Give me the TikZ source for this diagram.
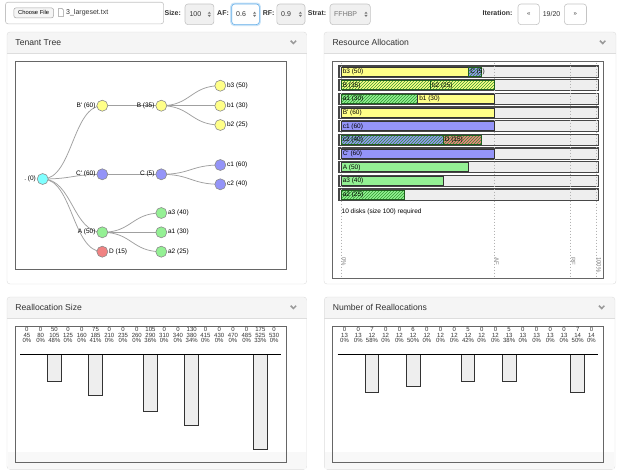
\documentclass[tikz,border=0pt]{standalone}
\usepackage{fontspec}
\setmainfont{Liberation Sans}
\usetikzlibrary{patterns,calc}
\definecolor{cyanN}{HTML}{7FFFFF}
\definecolor{yelN}{HTML}{FFFF88}
\definecolor{bluN}{HTML}{9494F8}
\definecolor{grnN}{HTML}{94F094}
\definecolor{pinkN}{HTML}{F08282}
\definecolor{hatchN}{HTML}{2F9A2F}
\definecolor{hborder}{HTML}{1F5F1F}
\definecolor{panelB}{HTML}{DDDDDD}
\definecolor{hdrF}{HTML}{F5F5F5}
\definecolor{txtD}{HTML}{333333}
\definecolor{barG}{HTML}{EEEEEE}
\definecolor{linkG}{HTML}{A0A0A0}
\definecolor{focusB}{HTML}{66AFE9}
\definecolor{selF}{HTML}{F0F0F0}
\definecolor{selB}{HTML}{C4C4C4}
\pgfdeclarelayer{bg}
\pgfdeclarelayer{edges}
\pgfsetlayers{bg,edges,main}
\newcommand\fs[1]{\fontsize{#1}{#1}\selectfont}
\newcommand\apos{\textquotesingle}
\tikzset{
  tn/.style={circle,draw=black!45,line width=0.6pt,minimum size=11pt,inner sep=0pt},
  tl/.style={font=\fs{6.5},inner sep=0.8pt,text=black},
  link/.style={draw=linkG,line width=0.75pt},
  ptitle/.style={font=\fs{8.6},text=txtD,inner sep=0pt},
  chev/.style={draw=black!40,line width=1.5pt},
  ibox/.style={draw=black!60,line width=0.8pt},
  bl/.style={anchor=west,font=\fs{6.5},inner sep=0pt},
  num/.style={align=center,font=\fontsize{6}{5.5}\selectfont,inner sep=0pt,text=txtD},
  cbar/.style={draw=black!80,fill=barG,line width=0.9pt},
  dline/.style={draw=black!30,dash pattern=on 1.5pt off 1.5pt,line width=0.6pt},
  rlab/.style={rotate=-90,anchor=south west,font=\fs{6},text=black!50,inner sep=0.5pt},
  ui/.style={font=\fs{7},inner sep=0pt,text=txtD},
  uib/.style={font=\bfseries\fs{7},inner sep=0pt,text=txtD},
  sel/.style={draw=selB,fill=selF,rounded corners=3pt,line width=0.6pt},
  btn/.style={draw=selB,fill=white,rounded corners=3pt,line width=0.6pt},
}
\newcommand\panelbox[6]{%
  \begin{pgfonlayer}{bg}
  \fill[white,rounded corners=3pt] (#1,#2) rectangle (#3,#4);
  \begin{scope}
    \clip[rounded corners=3pt] (#1,#2) rectangle (#3,#4);
    \fill[hdrF] (#1,#2) rectangle (#3,#2+21);
  \end{scope}
  \draw[panelB] (#1,#2+21) -- (#3,#2+21);
  \draw[panelB,rounded corners=3pt] (#1,#2) rectangle (#3,#4);
  \end{pgfonlayer}
  \node[ptitle,anchor=west] (#5) at (#1+8.3,#2+10.7) {#6};
  \draw[chev] (#3-16,#2+8.7) -- (#3-13.3,#2+11.5) -- (#3-10.6,#2+8.7);
}
\newcommand\selarrows[2]{%
  \fill[black!55] (#1-1.6,#2-0.6) -- (#1+1.6,#2-0.6) -- (#1,#2-2.6) -- cycle;
  \fill[black!55] (#1-1.6,#2+0.6) -- (#1+1.6,#2+0.6) -- (#1,#2+2.6) -- cycle;
}
\newcommand\rowbg[1]{%
  \pgfmathsetmacro\rY{66+(#1-1)*13.67}
  \draw[draw=black!72,fill=barG,line width=1.1pt] (339,\rY) rectangle (598.3,\rY+11.2);
}
\newcommand\seg[6]{%
  \pgfmathsetmacro\rY{66+(#1-1)*13.67}
  \pgfmathsetmacro\rXa{341+2.55*#2}
  \pgfmathsetmacro\rXb{341+2.55*#3}
  \draw[draw=black!80,fill=#4,line width=0.8pt] (\rXa,\rY+1) rectangle (\rXb,\rY+10.2);
  \node[bl] (#5) at (\rXa+1.6,\rY+5.7) {#6};
}
\newcommand\hseg[6]{%
  \pgfmathsetmacro\rY{66+(#1-1)*13.67}
  \pgfmathsetmacro\rXa{341+2.55*#2}
  \pgfmathsetmacro\rXb{341+2.55*#3}
  \fill[#4] (\rXa,\rY+1) rectangle (\rXb,\rY+10.2);
  \fill[pattern=north east lines,pattern color=hatchN] (\rXa,\rY+1) rectangle (\rXb,\rY+10.2);
  \draw[hborder,line width=0.8pt] (\rXa,\rY+1) rectangle (\rXb,\rY+10.2);
  \node[bl] (#5) at (\rXa+1.6,\rY+5.7) {#6};
}
\newcommand\lnk[2]{%
  \draw[link] let \p1=(#1.center), \p2=(#2.center) in
    (\p1) .. controls ({0.5*\x1+0.5*\x2},\y1) and ({0.5*\x1+0.5*\x2},\y2) .. (\p2);
}
\begin{document}
\begin{tikzpicture}[x=1pt,y=-1pt]
\useasboundingbox (0,0) rectangle (621,474);
\begin{pgfonlayer}{bg}
\fill[white] (0,0) rectangle (621,474);
\end{pgfonlayer}

% ---------- top bar ----------
\draw[draw=selB,fill=white,rounded corners=2.5pt,line width=0.6pt] (5.5,2.2) rectangle (163.6,23.8);
\draw[draw=black!35,fill=hdrF,rounded corners=2pt,line width=0.5pt] (13.9,7.9) rectangle (53.5,17.8);
\node[font=\fs{5.8},inner sep=0pt,text=black] (choose) at (33.7,12.9) {Choose File};
\draw[black!40,line width=0.4pt,fill=white] (58.6,8.3) -- (61.8,8.3) -- (63.4,9.9) -- (63.4,16.6) -- (58.6,16.6) -- cycle;
\node[ui,anchor=west] (fname) at (66,12.8) {3\_largeset.txt};
\node[uib,anchor=west] (lsize) at (164.4,13.2) {Size:};
\draw[sel] (185,4) rectangle (213.9,24.6);
\node[ui,anchor=west] (vsize) at (189.3,14.3) {100};
\selarrows{209.3}{14.3}
\node[uib,anchor=west] (laf) at (217,13.2) {AF:};
\fill[focusB!35,rounded corners=4pt] (230.2,2.5) rectangle (260.9,26.1);
\draw[sel,draw=focusB,fill=white!90!selF] (231.7,4) rectangle (259.4,24.6);
\node[ui,anchor=west] (vaf) at (236,14.3) {0.6};
\selarrows{254.6}{14.3}
\node[uib,anchor=west] (lrf) at (262.6,13.2) {RF:};
\draw[sel] (276.8,4) rectangle (305,24.6);
\node[ui,anchor=west] (vrf) at (281,14.3) {0.9};
\selarrows{300.4}{14.3}
\node[uib,anchor=west] (lstrat) at (307.7,13.2) {Strat:};
\draw[sel] (330,4) rectangle (370.3,24.6);
\node[ui,anchor=west,text=black!55] (vstrat) at (334,14.3) {FFHBP};
\selarrows{366}{14.3}
\node[uib,anchor=west] (liter) at (482.4,13.2) {Iteration:};
\draw[btn] (518,4) rectangle (539.4,24.6);
\node[ui,font=\fs{6}] (prev) at (528.7,14.3) {<<};
\node[ui,anchor=west] (iter) at (542.6,13.6) {19/20};
\draw[btn] (564.4,4) rectangle (586.5,24.6);
\node[ui,font=\fs{6}] (next) at (575.4,14.3) {>>};

% ---------- panels ----------
\panelbox{7}{32}{306.7}{284}{ttree}{Tenant Tree}
\panelbox{324}{32}{616}{284}{tres}{Resource Allocation}
\panelbox{7}{297}{306.7}{469.3}{tsize}{Reallocation Size}
\panelbox{324.3}{297}{615}{469.3}{tnum}{Number of Reallocations}
\begin{pgfonlayer}{bg}
\fill[hdrF!70] (7.6,451.7) rectangle (306.1,468.7);
\fill[hdrF!70] (324.9,451.7) rectangle (614.4,468.7);
\end{pgfonlayer}

% ---------- tenant tree ----------
\draw[ibox] (15,61) rectangle (286.7,269);
\node[tn,fill=cyanN] (root) at (42.7,179) {};
\node[tn,fill=yelN] (Bp) at (102.3,105.7) {};
\node[tn,fill=yelN] (B) at (161.3,105.7) {};
\node[tn,fill=yelN] (b3) at (220.3,85.7) {};
\node[tn,fill=yelN] (b1) at (220.3,105.7) {};
\node[tn,fill=yelN] (b2) at (220.3,125) {};
\node[tn,fill=bluN] (Cp) at (102.3,174.3) {};
\node[tn,fill=bluN] (C) at (161.3,174.3) {};
\node[tn,fill=bluN] (c1) at (220.3,165) {};
\node[tn,fill=bluN] (c2) at (220.3,184.3) {};
\node[tn,fill=grnN] (A) at (102.3,232.3) {};
\node[tn,fill=pinkN] (D) at (102.3,251.7) {};
\node[tn,fill=grnN] (a3) at (161.3,213) {};
\node[tn,fill=grnN] (a1) at (161.3,232.3) {};
\node[tn,fill=grnN] (a2) at (161.3,251.7) {};
\node[tl,anchor=east] (lroot) at (root.west) {.\ (0)};
\node[tl,anchor=east] (lBp) at (Bp.west) {B\apos\ (60)};
\node[tl,anchor=east] (lB) at (B.west) {B (35)};
\node[tl,anchor=west] (lb3) at (b3.east) {b3 (50)};
\node[tl,anchor=west] (lb1) at (b1.east) {b1 (30)};
\node[tl,anchor=west] (lb2) at (b2.east) {b2 (25)};
\node[tl,anchor=east] (lCp) at (Cp.west) {C\apos\ (60)};
\node[tl,anchor=east] (lC) at (C.west) {C (5)};
\node[tl,anchor=west] (lc1) at (c1.east) {c1 (60)};
\node[tl,anchor=west] (lc2) at (c2.east) {c2 (40)};
\node[tl,anchor=east] (lA) at (A.west) {A (50)};
\node[tl,anchor=west] (lD) at (D.east) {D (15)};
\node[tl,anchor=west] (la3) at (a3.east) {a3 (40)};
\node[tl,anchor=west] (la1) at (a1.east) {a1 (30)};
\node[tl,anchor=west] (la2) at (a2.east) {a2 (25)};
\begin{pgfonlayer}{edges}
\lnk{root}{Bp}\lnk{root}{Cp}\lnk{root}{A}\lnk{root}{D}
\lnk{Bp}{B}\lnk{B}{b3}\lnk{B}{b1}\lnk{B}{b2}
\lnk{Cp}{C}\lnk{C}{c1}\lnk{C}{c2}
\lnk{A}{a3}\lnk{A}{a1}\lnk{A}{a2}
\end{pgfonlayer}

% ---------- resource allocation ----------
\draw[ibox] (332.7,61) rectangle (603.3,278);
\foreach \r in {1,...,10} {\rowbg{\r}}
\foreach \x in {341,494,570.5,596} {\draw[dline] (\x,62.5) -- (\x,277);}
\seg{1}{0}{50}{yelN}{s1a}{b3 (50)}
\hseg{1}{50}{55}{bluN}{s1b}{C (5)}
\hseg{2}{0}{35}{yelN}{s2a}{B (35)}
\hseg{2}{35}{60}{yelN}{s2b}{b2 (25)}
\hseg{3}{0}{30}{grnN}{s3a}{a1 (30)}
\seg{3}{30}{60}{yelN}{s3b}{b1 (30)}
\seg{4}{0}{60}{yelN}{s4a}{B\apos\ (60)}
\seg{5}{0}{60}{bluN}{s5a}{c1 (60)}
\hseg{6}{0}{40}{bluN}{s6a}{c2 (40)}
\hseg{6}{40}{55}{pinkN}{s6b}{D (15)}
\seg{7}{0}{60}{bluN}{s7a}{C\apos\ (60)}
\seg{8}{0}{50}{grnN}{s8a}{A (50)}
\seg{9}{0}{40}{grnN}{s9a}{a3 (40)}
\hseg{10}{0}{25}{grnN}{s10a}{a2 (25)}
\node[bl] (disks) at (341.5,211.7) {10 disks (size 100) required};
\node[rlab] (p0) at (341,256.5) {0\%};
\node[rlab] (pAF) at (494,256.5) {AF};
\node[rlab] (pRF) at (570.5,256.5) {RF};
\node[rlab] (p100) at (596,256.5) {100\%};

% ---------- reallocation size ----------
\draw[ibox] (15,326.7) rectangle (286.7,462.3);
\foreach \v/\w/\p [count=\i] in {0/45/0,0/80/0,50/105/48,0/125/0,0/160/0,75/185/41,0/210/0,0/235/0,0/260/0,105/290/36,0/310/0,0/340/0,130/380/34,0/415/0,0/430/0,0/470/0,0/485/0,175/525/33,0/530/0}
  {\node[num] (rs\i) at ({20+(\i-0.5)*13.737},335.2) {\v\\\w\\\p\%};}
\foreach \c/\v in {3/50,6/75,10/105,13/130,18/175}
  {\draw[cbar] ({20+(\c-1)*13.737},354.3) rectangle ({20+\c*13.737},{354.3+0.545*\v});}
\draw[black,line width=0.9pt] (20,354.3) -- (281,354.3);

% ---------- number of reallocations ----------
\draw[ibox] (332.3,326.7) rectangle (603.7,462.3);
\foreach \v/\w/\p [count=\i] in {0/13/0,0/13/0,7/12/58,0/12/0,0/12/0,6/12/50,0/12/0,0/12/0,0/12/0,5/12/42,0/12/0,0/12/0,5/13/38,0/13/0,0/13/0,0/13/0,0/13/0,7/14/50,0/14/0}
  {\node[num] (nr\i) at ({337.7+(\i-0.5)*13.716},335.2) {\v\\\w\\\p\%};}
\foreach \c/\v in {3/7,6/6,10/5,13/5,18/7}
  {\draw[cbar] ({337.7+(\c-1)*13.716},354.3) rectangle ({337.7+\c*13.716},{354.3+5.43*\v});}
\draw[black,line width=0.9pt] (337.7,354.3) -- (598.3,354.3);
\end{tikzpicture}
\end{document}
